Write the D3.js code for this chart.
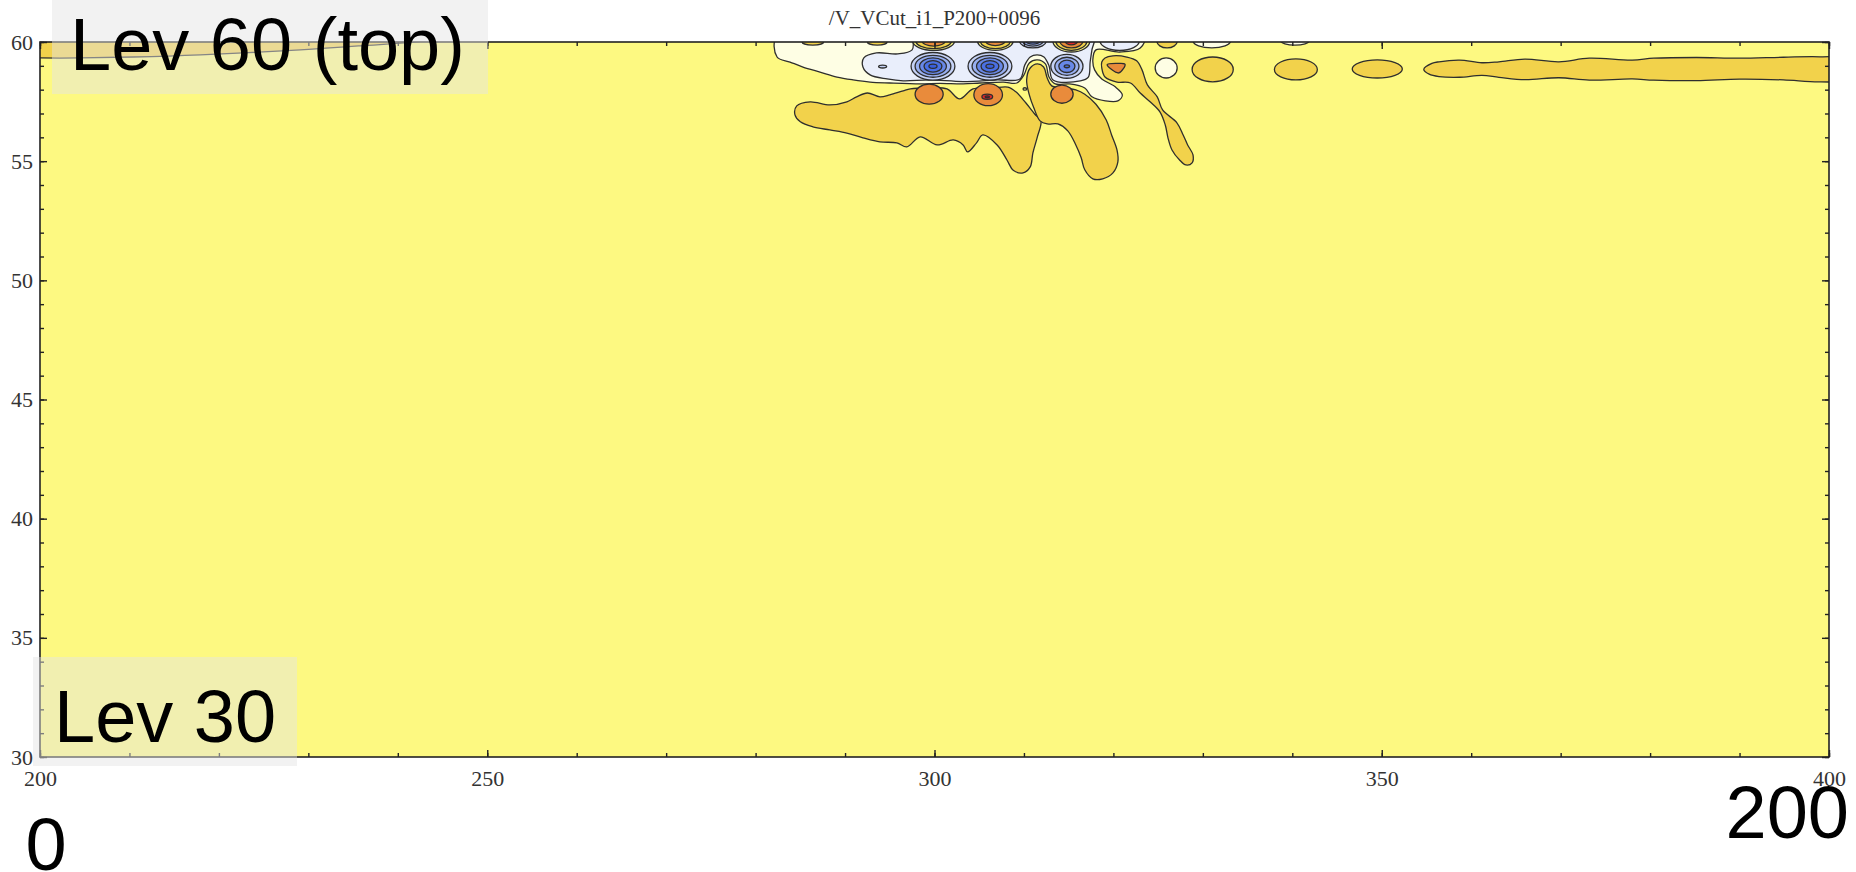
<!DOCTYPE html>
<html><head><meta charset="utf-8">
<script src="https://cdn.jsdelivr.net/npm/d3@7"></script>
<style>
html,body{margin:0;padding:0;background:#fff;}
svg{display:block;}
</style></head><body>
<svg id="chart" width="1856" height="872"></svg>
<script>
// ---------- axes ----------
const plotTitle = "/V_VCut_i1_P200+0096";
const xDomain = [200, 400];
const levDomain = [30, 60];
const xMajorTicks = [200, 250, 300, 350, 400];
const levMajorTicks = [30, 35, 40, 45, 50, 55, 60];
const xMinorTicks = d3.range(200, 401, 10);
const levMinorTicks = d3.range(30, 61, 1);

// ---------- contour bands (band index -> fill) ----------
const bandIndex = [-7, -6, -5, -4, -3, -2, -1, 0, 1, 2, 3, 4];
const bandFill = ["#3a5fdb", "#4a70e4", "#6888e8", "#98aff0", "#c5d2f6", "#e9eefb",
                  "#fefee4", "#fdf981", "#f2d24b", "#e98b3b", "#e0252b", "#9b1020"];

// ---------- closed contour outlines, [grid x, level] ----------
const ridgeNW = [[196,60.3],[196,59.36],[200,59.33],[204.5,59.33],[210.4,59.37],[217.9,59.46],[229.1,59.67],[235.8,59.84],[243,60.05],[246,60.3]];

const stripE = [[354.7,58.85],[355.6,59.1],[356.4,59.17],[358.7,59.24],[361.2,59.13],[363.1,59.17],[366.0,59.28],[369.8,59.17],[373.2,59.32],[378.0,59.24],[380.4,59.32],[385.2,59.35],[390.0,59.32],[394.9,59.36],[399,59.38],[403,59.25],
                [403,58.45],[399,58.33],[394.9,58.41],[390.0,58.44],[385.2,58.38],[380.4,58.40],[378.0,58.45],[373.2,58.40],[369.8,58.50],[366.0,58.42],[363.1,58.52],[361.2,58.60],[358.7,58.52],[356.4,58.55],[355.3,58.65]];

const negOuter = [[282.5,60.3],[282.4,59.37],[283.85,59.16],[285.3,58.95],[287.2,58.74],[289.1,58.53],[290.9,58.41],[292.8,58.32],[295.0,58.28],[298.4,58.24],[300.6,58.26],[303.2,58.24],[305.1,58.28],[307.7,58.32],[309.2,58.28],[310.0,58.62],[310.6,59.12],[311.5,59.25],[312.4,59.08],[312.8,58.53],[313.5,58.24],[315.1,58.24],[316.8,58.07],[317.6,57.70],[319.1,57.53],[320.5,57.53],[321.0,57.78],[320.2,58.12],[318.7,58.45],[317.9,58.83],[317.7,59.25],[318.05,59.67],[320.7,59.58],[323.0,59.75],[323.5,60.3]];

const negInner = [[292.0,58.95],[292.1,59.33],[293.5,59.54],[295.9,59.50],[297.5,59.67],[297.9,60.3],[317.8,60.3],[317.6,59.67],[317.4,59.16],[317.2,58.53],[316.3,58.37],[313.25,58.41],[312.8,59.0],[312.24,59.37],[311.46,59.46],[310.7,59.37],[310.1,59.04],[309.55,58.45],[307.0,58.41],[303.2,58.34],[299.5,58.41],[296.5,58.37],[294.7,58.45],[292.8,58.62]];

const posWest = [[284.4,56.94],[284.6,57.32],[286.1,57.49],[288.3,57.36],[290.2,57.49],[291.3,57.70],[292.5,57.86],[293.9,57.70],[295.0,57.78],[296.5,57.95],[297.3,58.03],[299.2,58.07],[301.4,58.03],[302.8,57.61],[304.3,58.03],[306.5,58.07],[308.2,58.11],[309.1,57.91],[310.2,57.45],[311.2,56.98],[311.9,56.69],
                 [311.5,56.02],[311.0,55.35],[310.7,54.76],[309.9,54.51],[308.8,54.62],[308.1,55.05],[307.0,55.68],[305.4,56.10],[304.7,55.77],[303.7,55.39],[303.2,55.68],[302.1,55.89],[300.3,55.68],[298.4,56.02],[296.9,55.60],[295.8,55.77],[293.9,55.81],[292.0,55.98],[290.2,56.18],[288.3,56.31],[286.4,56.44],[285.0,56.65]];

const posEast = [[311.8,56.69],[311.1,57.24],[310.6,57.78],[310.3,58.41],[310.7,58.91],[311.5,59.08],[312.2,58.95],[312.6,58.49],[313.1,58.16],[314.6,58.07],[315.8,57.99],[316.8,57.81],[318.05,57.39],[319.2,56.73],[319.8,56.10],[320.4,55.47],[320.5,54.97],[319.95,54.51],[318.8,54.26],[317.7,54.26],[316.8,54.64],[316.4,55.14],[315.8,55.68],[314.9,56.27],[313.8,56.56],[312.6,56.56]];

const posNE = [[318.7,59.16],[319.06,59.33],[319.95,59.42],[321.5,59.37],[322.6,59.21],[323.2,58.83],[323.8,58.20],[324.9,57.70],[325.5,57.15],[327.1,56.61],[327.8,56.10],[328.3,55.68],[328.9,55.26],[328.8,54.93],[328.1,54.84],[327.4,55.05],[326.55,55.47],[326.1,55.98],[325.8,56.52],[325.2,57.07],[324.1,57.49],[323.0,57.86],[321.9,58.28],[320.4,58.32],[319.06,58.53],[318.7,58.91]];

const wedgeNE = [[319.3,59.05],[320.4,59.1],[321.3,59.07],[320.6,58.70]];

// ---------- closed oval contours: [x, level, half-width, half-height, band] ----------
const stripOvals = [[331.1,58.85,2.3,0.52,1],[340.4,58.85,2.4,0.44,1],[349.5,58.87,2.8,0.38,1],[325.9,58.91,1.23,0.42,-1]];

const lowCells = [
  [299.83,58.98,2.45,0.58,-3],[299.83,58.98,2.0,0.46,-4],[299.83,58.98,1.5,0.35,-5],[299.83,58.98,1.0,0.24,-6],[299.83,58.98,0.45,0.09,-7],
  [306.2,58.98,2.45,0.58,-3],[306.2,58.98,2.0,0.46,-4],[306.2,58.98,1.5,0.35,-5],[306.2,58.98,1.0,0.24,-6],[306.2,58.98,0.45,0.09,-7],
  [314.8,58.98,1.8,0.50,-3],[314.8,58.98,1.35,0.38,-4],[314.8,58.98,0.9,0.26,-5],[314.8,58.98,0.3,0.06,-6],
  [294.2,58.97,0.45,0.06,-3]
];

const rimCells = [
  [286.4,60.0,1.2,0.13,1],[293.6,60.0,1.1,0.13,1],
  [299.9,60.05,2.35,0.40,0],[299.9,60.05,2.0,0.33,1],[299.9,60.05,1.3,0.22,2],
  [306.8,60.05,2.0,0.40,0],[306.8,60.05,1.7,0.33,1],[306.8,60.05,1.1,0.20,2],
  [311.0,60.05,1.5,0.30,-3],[311.0,60.05,1.15,0.22,-4],[311.0,60.05,0.8,0.14,-5],
  [315.3,60.05,2.07,0.47,0],[315.3,60.05,1.75,0.40,1],[315.3,60.05,1.3,0.30,2],[315.3,60.05,0.7,0.17,3],
  [320.7,60.05,2.2,0.40,-2],
  [326.0,60.05,1.15,0.30,1],
  [331.0,60.05,2.1,0.30,-1],[340.3,60.05,1.6,0.18,-1]
];

const highCells = [
  [299.4,57.81,1.57,0.42,2],
  [306.0,57.79,1.6,0.46,2],[305.9,57.70,0.6,0.11,3],[305.9,57.70,0.25,0.04,4],
  [314.25,57.81,1.25,0.38,2],
  [310.1,58.03,0.2,0.05,0]
];

// ---------- annotations ----------
const noteTop = "Lev 60 (top)";
const noteBottom = "Lev 30";
const noteLeft = "0";
const noteRight = "200";

// ---------- drawing ----------
const svg = d3.select("#chart");
const W = 1856, H = 872;
const margin = {left: 40, right: 27, top: 42, bottom: 115};
const x = d3.scaleLinear().domain(xDomain).range([margin.left, W - margin.right]);
const y = d3.scaleLinear().domain(levDomain).range([H - margin.bottom, margin.top]);
const fill = d3.scaleOrdinal().domain(bandIndex).range(bandFill);

svg.append("defs").append("clipPath").attr("id", "plotClip")
  .append("rect").attr("x", x(200)).attr("y", y(60))
  .attr("width", x(400) - x(200)).attr("height", y(30) - y(60));

const field = svg.append("g").attr("clip-path", "url(#plotClip)");
field.append("rect").attr("x", x(200)).attr("y", y(60))
  .attr("width", x(400) - x(200)).attr("height", y(30) - y(60))
  .attr("fill", fill(0));

const outline = d3.line().x(d => x(d[0])).y(d => y(d[1]))
  .curve(d3.curveCatmullRomClosed.alpha(0.5));
const lineColor = "#2e2e2e";

function drawOutlines(list) {
  field.append("g").selectAll("path").data(list).join("path")
    .attr("d", d => outline(d.pts))
    .attr("fill", d => fill(d.band))
    .attr("stroke", lineColor).attr("stroke-width", 1.3).attr("stroke-linejoin", "round");
}
function drawOvals(list) {
  field.append("g").selectAll("ellipse").data(list).join("ellipse")
    .attr("cx", d => x(d[0])).attr("cy", d => y(d[1]))
    .attr("rx", d => x(d[0] + d[2]) - x(d[0]))
    .attr("ry", d => y(d[1] - d[3]) - y(d[1]))
    .attr("fill", d => fill(d[4]))
    .attr("stroke", lineColor).attr("stroke-width", 1.3);
}

drawOutlines([{pts: ridgeNW, band: 1}, {pts: stripE, band: 1}]);
drawOvals(stripOvals);
drawOutlines([{pts: negOuter, band: -1}, {pts: negInner, band: -2}]);
drawOvals(lowCells);
drawOvals(rimCells);
drawOutlines([{pts: posWest, band: 1}, {pts: posEast, band: 1}, {pts: posNE, band: 1}, {pts: wedgeNE, band: 2}]);
drawOvals(highCells);

// frame
svg.append("rect").attr("x", x(200)).attr("y", y(60))
  .attr("width", x(400) - x(200)).attr("height", y(30) - y(60))
  .attr("fill", "none").attr("stroke", "#222").attr("stroke-width", 1.6);

function styleAxis(g) {
  g.select(".domain").remove();
  g.selectAll("line").attr("stroke", "#222").attr("stroke-width", 1.4);
  g.selectAll("text").attr("font-family", "'Liberation Serif', 'DejaVu Serif', serif")
    .attr("font-size", 22).attr("fill", "#333");
}
const fmt = d3.format("d");
svg.append("g").attr("transform", `translate(0,${y(30)})`)
  .call(d3.axisBottom(x).tickValues(xMinorTicks).tickSize(-4).tickFormat("")).call(styleAxis);
svg.append("g").attr("transform", `translate(0,${y(30)})`)
  .call(d3.axisBottom(x).tickValues(xMajorTicks).tickSize(-7).tickPadding(13).tickFormat(fmt)).call(styleAxis);
svg.append("g").attr("transform", `translate(0,${y(60)})`)
  .call(d3.axisTop(x).tickValues(xMinorTicks).tickSize(-4).tickFormat("")).call(styleAxis);
svg.append("g").attr("transform", `translate(0,${y(60)})`)
  .call(d3.axisTop(x).tickValues(xMajorTicks).tickSize(-7).tickFormat("")).call(styleAxis);
svg.append("g").attr("transform", `translate(${x(200)},0)`)
  .call(d3.axisLeft(y).tickValues(levMinorTicks).tickSize(-4).tickFormat("")).call(styleAxis);
svg.append("g").attr("transform", `translate(${x(200)},0)`)
  .call(d3.axisLeft(y).tickValues(levMajorTicks).tickSize(-7).tickPadding(7).tickFormat(fmt)).call(styleAxis);
svg.append("g").attr("transform", `translate(${x(400)},0)`)
  .call(d3.axisRight(y).tickValues(levMinorTicks).tickSize(-4).tickFormat("")).call(styleAxis);
svg.append("g").attr("transform", `translate(${x(400)},0)`)
  .call(d3.axisRight(y).tickValues(levMajorTicks).tickSize(-7).tickFormat("")).call(styleAxis);

// title
svg.append("text").attr("x", (x(200) + x(400)) / 2).attr("y", 25)
  .attr("text-anchor", "middle")
  .attr("font-family", "'Liberation Serif', 'DejaVu Serif', serif")
  .attr("font-size", 21).attr("fill", "#333").text(plotTitle);

// level annotations
const sans = "'Liberation Sans', Arial, sans-serif";
svg.append("rect").attr("x", 52).attr("y", 0).attr("width", 436).attr("height", 94)
  .attr("fill", "#e4e4e4").attr("fill-opacity", 0.48);
svg.append("text").attr("x", 70).attr("y", 70).attr("font-family", sans)
  .attr("font-size", 74).attr("fill", "#000").text(noteTop);
svg.append("rect").attr("x", 33).attr("y", 657).attr("width", 264).attr("height", 109)
  .attr("fill", "#e4e4e4").attr("fill-opacity", 0.48);
svg.append("text").attr("x", 54).attr("y", 742).attr("font-family", sans)
  .attr("font-size", 74).attr("fill", "#000").text(noteBottom);
svg.append("text").attr("x", 46).attr("y", 870).attr("text-anchor", "middle").attr("font-family", sans)
  .attr("font-size", 74).attr("fill", "#000").text(noteLeft);
svg.append("text").attr("x", 1849).attr("y", 838).attr("text-anchor", "end").attr("font-family", sans)
  .attr("font-size", 74).attr("fill", "#000").text(noteRight);
</script>
</body></html>
